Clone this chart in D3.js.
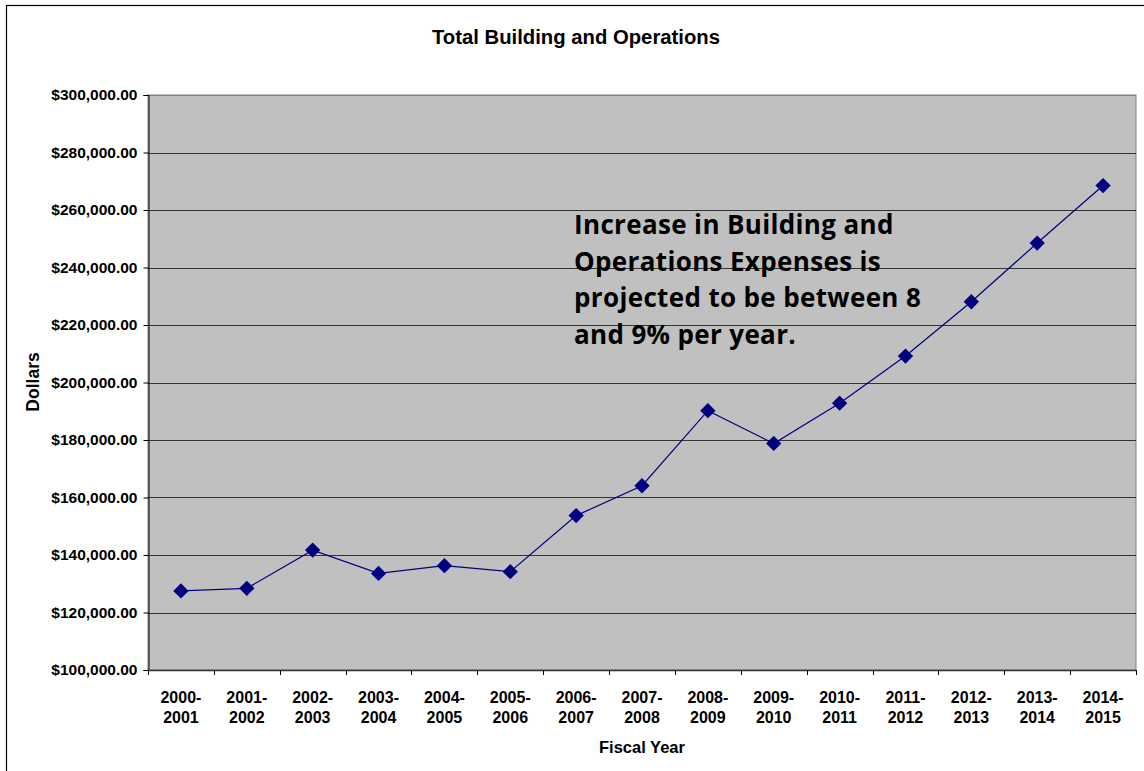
<!DOCTYPE html>
<html>
<head>
<meta charset="utf-8">
<script src="https://cdn.jsdelivr.net/npm/d3@7"></script>
<style>
  html, body { margin: 0; padding: 0; background: #fff; }
  svg { display: block; }
</style>
</head>
<body>
<svg id="chart" width="1144" height="771"></svg>
<script>
const categories = ["2000-2001","2001-2002","2002-2003","2003-2004","2004-2005","2005-2006","2006-2007","2007-2008","2008-2009","2009-2010","2010-2011","2011-2012","2012-2013","2013-2014","2014-2015"];
const values = [127500, 128400, 141700, 133600, 136300, 134200, 153700, 164100, 190200, 178800, 192800, 209200, 228100, 248500, 268500];
const yTicks = [100000,120000,140000,160000,180000,200000,220000,240000,260000,280000,300000];
const title = "Total Building and Operations";
const xTitle = "Fiscal Year";
const yTitle = "Dollars";
const annotation = ["Increase in Building and", "Operations Expenses is", "projected to be between 8", "and 9% per year."];

const svg = d3.select("#chart");
const W = 1144, H = 771;
const m = {left: 148, top: 95, right: 1136, bottom: 670};
const FONT = "Arial, 'Liberation Sans', sans-serif";

// outer frame
svg.append("rect").attr("x", 6.5).attr("y", 5.5).attr("width", W + 10).attr("height", H + 10)
  .attr("fill", "#fff").attr("stroke", "#000").attr("stroke-width", 1.2);

const x = d3.scaleBand().domain(categories).range([m.left, m.right]);
const y = d3.scaleLinear().domain([100000, 300000]).range([m.bottom, m.top]);

// plot background
svg.append("rect").attr("x", m.left).attr("y", m.top)
  .attr("width", m.right - m.left).attr("height", m.bottom - m.top)
  .attr("fill", "#c0c0c0").attr("stroke", "#808080").attr("stroke-width", 1);

// gridlines
svg.append("g").selectAll("line").data(yTicks.slice(1)).join("line")
  .attr("x1", m.left).attr("x2", m.right)
  .attr("y1", d => Math.round(y(d)) + 0.5).attr("y2", d => Math.round(y(d)) + 0.5)
  .attr("stroke", d => d === 300000 ? "#808080" : "#333").attr("stroke-width", 1);

// y axis
const fmt = d => "$" + d3.format(",.2f")(d);
const yAxis = svg.append("g").attr("transform", `translate(${m.left + 0.5},0)`)
  .call(d3.axisLeft(y).tickValues(yTicks).tickFormat(fmt).tickSize(5).tickPadding(6));
yAxis.attr("font-family", FONT).attr("font-size", 15.5).attr("font-weight", "bold");
yAxis.select(".domain").attr("stroke", "#000");
yAxis.selectAll(".tick line").attr("stroke", "#000");
yAxis.selectAll(".tick text").attr("fill", "#000");

// x axis line and ticks
svg.append("line").attr("x1", m.left).attr("x2", m.right)
  .attr("y1", m.bottom + 0.5).attr("y2", m.bottom + 0.5).attr("stroke", "#333").attr("stroke-width", 1.5);
svg.append("g").selectAll("line").data(d3.range(categories.length + 1)).join("line")
  .attr("x1", i => Math.round(m.left + i * x.step()) + 0.5)
  .attr("x2", i => Math.round(m.left + i * x.step()) + 0.5)
  .attr("y1", m.bottom).attr("y2", m.bottom + 5).attr("stroke", "#000");

// x labels (two lines)
const cx = d => x(d) + x.bandwidth() / 2;
const xl = svg.append("g").attr("font-family", FONT).attr("font-weight", "bold")
  .attr("font-size", 16).attr("text-anchor", "middle").attr("fill", "#000");
categories.forEach(c => {
  const parts = c.split("-");
  const t = xl.append("text");
  t.append("tspan").attr("x", cx(c)).attr("y", 703).text(parts[0] + "-");
  t.append("tspan").attr("x", cx(c)).attr("y", 723).text(parts[1]);
});

// titles
svg.append("text").attr("x", 576).attr("y", 44).attr("text-anchor", "middle")
  .attr("font-family", FONT).attr("font-weight", "bold")
  .attr("font-size", 20.3).text(title);
svg.append("text").attr("x", 642).attr("y", 753).attr("text-anchor", "middle")
  .attr("font-family", FONT).attr("font-weight", "bold")
  .attr("font-size", 16.5).text(xTitle);
svg.append("text").attr("transform", "translate(39,382) rotate(-90)").attr("text-anchor", "middle")
  .attr("font-family", FONT).attr("font-weight", "bold")
  .attr("font-size", 17.5).text(yTitle);

// line
svg.append("path").datum(categories.map((c, i) => [c, values[i]]))
  .attr("fill", "none").attr("stroke", "#000080").attr("stroke-width", 1.2)
  .attr("d", d3.line().x(d => cx(d[0])).y(d => y(d[1])));

// markers
const diamond = d3.symbol().type(d3.symbolDiamond2).size(150);
svg.append("g").selectAll("path").data(categories).join("path")
  .attr("transform", (c, i) => `translate(${cx(c)},${y(values[i])})`)
  .attr("d", diamond).attr("fill", "#000080");

// annotation
const ann = svg.append("text").attr("font-family", "'Open Sans', Lato, sans-serif")
  .attr("font-weight", "bold").attr("font-size", 26).attr("letter-spacing", 0.35).attr("fill", "#000");
annotation.forEach((line, i) => {
  ann.append("tspan").attr("x", 574).attr("y", 234 + i * 36.5).text(line);
});
</script>
</body>
</html>
